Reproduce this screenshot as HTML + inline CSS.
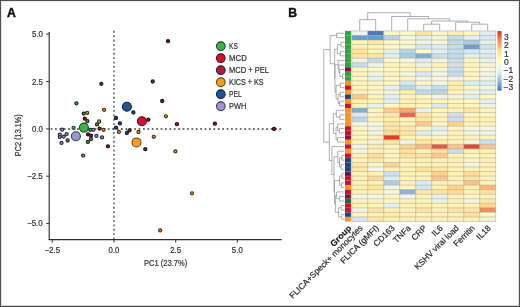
<!DOCTYPE html>
<html><head><meta charset="utf-8"><style>
html,body{margin:0;padding:0;background:#fff;}
#f{position:relative;width:520px;height:307px;overflow:hidden;background:#fff;box-sizing:border-box;border:1px solid #505050;}
svg{position:absolute;left:-1px;top:-1px;will-change:transform;}
svg text{font-family:"Liberation Sans", sans-serif;stroke:#3a3a3a;stroke-width:0.22px;}
</style></head><body><div id="f">
<svg width="520" height="307" viewBox="0 0 520 307" font-family='"Liberation Sans", sans-serif'>
<line x1="49.2" y1="32" x2="49.2" y2="240.1" stroke="#2e2e2e" stroke-width="1.15"/>
<line x1="48.7" y1="239.6" x2="281.6" y2="239.6" stroke="#2e2e2e" stroke-width="1.15"/>
<line x1="46.2" y1="34.0" x2="49.2" y2="34.0" stroke="#2e2e2e" stroke-width="1"/>
<text x="42.800000000000004" y="37.0" text-anchor="end" font-size="8.6" fill="#2e2e2e" textLength="10.9" lengthAdjust="spacingAndGlyphs">5.0</text>
<line x1="46.2" y1="81.6" x2="49.2" y2="81.6" stroke="#2e2e2e" stroke-width="1"/>
<text x="42.800000000000004" y="84.6" text-anchor="end" font-size="8.6" fill="#2e2e2e" textLength="10.9" lengthAdjust="spacingAndGlyphs">2.5</text>
<line x1="46.2" y1="128.9" x2="49.2" y2="128.9" stroke="#2e2e2e" stroke-width="1"/>
<text x="42.800000000000004" y="131.9" text-anchor="end" font-size="8.6" fill="#2e2e2e" textLength="10.9" lengthAdjust="spacingAndGlyphs">0.0</text>
<line x1="46.2" y1="176.2" x2="49.2" y2="176.2" stroke="#2e2e2e" stroke-width="1"/>
<text x="42.800000000000004" y="179.2" text-anchor="end" font-size="8.6" fill="#2e2e2e" textLength="15.8" lengthAdjust="spacingAndGlyphs">−2.5</text>
<line x1="46.2" y1="223.4" x2="49.2" y2="223.4" stroke="#2e2e2e" stroke-width="1"/>
<text x="42.800000000000004" y="226.4" text-anchor="end" font-size="8.6" fill="#2e2e2e" textLength="15.8" lengthAdjust="spacingAndGlyphs">−5.0</text>
<line x1="52.3" y1="239.6" x2="52.3" y2="242.6" stroke="#2e2e2e" stroke-width="1"/>
<text x="52.3" y="253.4" text-anchor="middle" font-size="8.6" fill="#2e2e2e" textLength="15.8" lengthAdjust="spacingAndGlyphs">−2.5</text>
<line x1="114.0" y1="239.6" x2="114.0" y2="242.6" stroke="#2e2e2e" stroke-width="1"/>
<text x="114.0" y="253.4" text-anchor="middle" font-size="8.6" fill="#2e2e2e" textLength="10.9" lengthAdjust="spacingAndGlyphs">0.0</text>
<line x1="175.7" y1="239.6" x2="175.7" y2="242.6" stroke="#2e2e2e" stroke-width="1"/>
<text x="175.7" y="253.4" text-anchor="middle" font-size="8.6" fill="#2e2e2e" textLength="10.9" lengthAdjust="spacingAndGlyphs">2.5</text>
<line x1="237.3" y1="239.6" x2="237.3" y2="242.6" stroke="#2e2e2e" stroke-width="1"/>
<text x="237.3" y="253.4" text-anchor="middle" font-size="8.6" fill="#2e2e2e" textLength="10.9" lengthAdjust="spacingAndGlyphs">5.0</text>
<line x1="114.0" y1="30.85" x2="114.0" y2="239.0" stroke="#444" stroke-width="1.35" stroke-dasharray="1.8 2.6"/>
<line x1="50.6" y1="129.0" x2="281.3" y2="129.0" stroke="#444" stroke-width="1.35" stroke-dasharray="1.8 2.6"/>
<circle cx="76.4" cy="103.3" r="1.55" fill="#4f9e55" stroke="#142a14" stroke-width="1.2"/>
<circle cx="83.7" cy="113.6" r="1.55" fill="#4f9e55" stroke="#142a14" stroke-width="1.2"/>
<circle cx="87.4" cy="121.2" r="1.55" fill="#4f9e55" stroke="#142a14" stroke-width="1.2"/>
<circle cx="97.0" cy="124.4" r="1.55" fill="#4f9e55" stroke="#142a14" stroke-width="1.2"/>
<circle cx="90.2" cy="129.8" r="1.55" fill="#4f9e55" stroke="#142a14" stroke-width="1.2"/>
<circle cx="91.0" cy="139.0" r="1.55" fill="#4f9e55" stroke="#142a14" stroke-width="1.2"/>
<circle cx="87.9" cy="141.9" r="1.55" fill="#4f9e55" stroke="#142a14" stroke-width="1.2"/>
<circle cx="67.6" cy="140.5" r="1.55" fill="#4f9e55" stroke="#142a14" stroke-width="1.2"/>
<circle cx="84.7" cy="118.6" r="1.55" fill="#a4182c" stroke="#360810" stroke-width="1.2"/>
<circle cx="176.9" cy="124.2" r="1.55" fill="#a4182c" stroke="#360810" stroke-width="1.2"/>
<circle cx="107.9" cy="146.3" r="1.55" fill="#a4182c" stroke="#360810" stroke-width="1.2"/>
<circle cx="99.6" cy="128.6" r="1.55" fill="#a4182c" stroke="#360810" stroke-width="1.2"/>
<circle cx="129.5" cy="130.4" r="1.55" fill="#a4182c" stroke="#360810" stroke-width="1.2"/>
<circle cx="168.0" cy="41.2" r="1.55" fill="#7e1832" stroke="#2a0c1c" stroke-width="1.2"/>
<circle cx="162.2" cy="101.0" r="1.55" fill="#7e1832" stroke="#2a0c1c" stroke-width="1.2"/>
<circle cx="214.9" cy="123.7" r="1.55" fill="#7e1832" stroke="#2a0c1c" stroke-width="1.2"/>
<circle cx="274.0" cy="128.9" r="1.55" fill="#7e1832" stroke="#2a0c1c" stroke-width="1.2"/>
<circle cx="148.3" cy="119.7" r="1.55" fill="#7e1832" stroke="#2a0c1c" stroke-width="1.2"/>
<circle cx="88.0" cy="134.3" r="1.55" fill="#7e1832" stroke="#2a0c1c" stroke-width="1.2"/>
<circle cx="91.0" cy="135.6" r="1.55" fill="#7e1832" stroke="#2a0c1c" stroke-width="1.2"/>
<circle cx="87.2" cy="112.9" r="1.55" fill="#e4a040" stroke="#4a3010" stroke-width="1.2"/>
<circle cx="104.1" cy="109.8" r="1.55" fill="#e4a040" stroke="#4a3010" stroke-width="1.2"/>
<circle cx="99.2" cy="121.5" r="1.55" fill="#e4a040" stroke="#4a3010" stroke-width="1.2"/>
<circle cx="103.6" cy="129.8" r="1.55" fill="#e4a040" stroke="#4a3010" stroke-width="1.2"/>
<circle cx="118.9" cy="132.0" r="1.55" fill="#e4a040" stroke="#4a3010" stroke-width="1.2"/>
<circle cx="138.5" cy="132.0" r="1.55" fill="#e4a040" stroke="#4a3010" stroke-width="1.2"/>
<circle cx="153.8" cy="136.8" r="1.55" fill="#e4a040" stroke="#4a3010" stroke-width="1.2"/>
<circle cx="165.9" cy="116.3" r="1.55" fill="#e4a040" stroke="#4a3010" stroke-width="1.2"/>
<circle cx="175.4" cy="151.4" r="1.55" fill="#e4a040" stroke="#4a3010" stroke-width="1.2"/>
<circle cx="192.0" cy="193.3" r="1.55" fill="#e4a040" stroke="#4a3010" stroke-width="1.2"/>
<circle cx="160.2" cy="230.4" r="1.55" fill="#e4a040" stroke="#4a3010" stroke-width="1.2"/>
<circle cx="101.3" cy="83.8" r="1.55" fill="#2c4c7c" stroke="#0f1a30" stroke-width="1.2"/>
<circle cx="152.7" cy="81.5" r="1.55" fill="#2c4c7c" stroke="#0f1a30" stroke-width="1.2"/>
<circle cx="133.4" cy="112.5" r="1.55" fill="#2c4c7c" stroke="#0f1a30" stroke-width="1.2"/>
<circle cx="116.0" cy="118.0" r="1.55" fill="#2c4c7c" stroke="#0f1a30" stroke-width="1.2"/>
<circle cx="119.9" cy="123.4" r="1.55" fill="#2c4c7c" stroke="#0f1a30" stroke-width="1.2"/>
<circle cx="116.0" cy="127.6" r="1.55" fill="#2c4c7c" stroke="#0f1a30" stroke-width="1.2"/>
<circle cx="126.9" cy="133.0" r="1.55" fill="#2c4c7c" stroke="#0f1a30" stroke-width="1.2"/>
<circle cx="145.3" cy="149.2" r="1.55" fill="#2c4c7c" stroke="#0f1a30" stroke-width="1.2"/>
<circle cx="62.2" cy="129.7" r="1.55" fill="#9a96c8" stroke="#2e2e48" stroke-width="1.2"/>
<circle cx="73.6" cy="127.8" r="1.55" fill="#9a96c8" stroke="#2e2e48" stroke-width="1.2"/>
<circle cx="59.8" cy="134.6" r="1.55" fill="#9a96c8" stroke="#2e2e48" stroke-width="1.2"/>
<circle cx="59.8" cy="137.1" r="1.55" fill="#9a96c8" stroke="#2e2e48" stroke-width="1.2"/>
<circle cx="63.7" cy="136.6" r="1.55" fill="#9a96c8" stroke="#2e2e48" stroke-width="1.2"/>
<circle cx="66.6" cy="134.1" r="1.55" fill="#9a96c8" stroke="#2e2e48" stroke-width="1.2"/>
<circle cx="61.5" cy="142.9" r="1.55" fill="#9a96c8" stroke="#2e2e48" stroke-width="1.2"/>
<circle cx="96.4" cy="135.9" r="1.55" fill="#9a96c8" stroke="#2e2e48" stroke-width="1.2"/>
<circle cx="102.1" cy="137.4" r="1.55" fill="#9a96c8" stroke="#2e2e48" stroke-width="1.2"/>
<circle cx="93.4" cy="129.8" r="1.55" fill="#9a96c8" stroke="#2e2e48" stroke-width="1.2"/>
<circle cx="83.1" cy="155.6" r="1.55" fill="#9a96c8" stroke="#2e2e48" stroke-width="1.2"/>
<circle cx="75.9" cy="136.3" r="4.5" fill="#9d94d2" stroke="#3c3a52" stroke-width="1.05"/>
<circle cx="83.9" cy="127.6" r="4.5" fill="#3cb34a" stroke="#1d4a1f" stroke-width="1.05"/>
<circle cx="126.9" cy="106.8" r="4.5" fill="#1f5595" stroke="#0c2444" stroke-width="1.05"/>
<circle cx="141.9" cy="121.3" r="4.5" fill="#d3112f" stroke="#5a0a14" stroke-width="1.05"/>
<circle cx="136.5" cy="142.4" r="4.5" fill="#f59d1c" stroke="#6a4210" stroke-width="1.05"/>
<circle cx="220.8" cy="46.2" r="4.35" fill="#3cb34a" stroke="#1d4a1f" stroke-width="1.05"/>
<text x="229.1" y="48.8" font-size="8.3" fill="#2e2e2e" textLength="8.7" lengthAdjust="spacingAndGlyphs">KS</text>
<circle cx="220.8" cy="58.2" r="4.35" fill="#d3112f" stroke="#5a0a14" stroke-width="1.05"/>
<text x="229.1" y="60.8" font-size="8.3" fill="#2e2e2e" textLength="17.7" lengthAdjust="spacingAndGlyphs">MCD</text>
<circle cx="220.8" cy="70.2" r="4.35" fill="#c3133a" stroke="#2a1c4c" stroke-width="1.05"/>
<text x="229.1" y="72.8" font-size="8.3" fill="#2e2e2e" textLength="39.8" lengthAdjust="spacingAndGlyphs">MCD + PEL</text>
<circle cx="220.8" cy="82.2" r="4.35" fill="#f59d1c" stroke="#6a4210" stroke-width="1.05"/>
<text x="229.1" y="84.8" font-size="8.3" fill="#2e2e2e" textLength="34.5" lengthAdjust="spacingAndGlyphs">KICS + KS</text>
<circle cx="220.8" cy="94.2" r="4.35" fill="#1f5595" stroke="#0c2444" stroke-width="1.05"/>
<text x="229.1" y="96.8" font-size="8.3" fill="#2e2e2e" textLength="12.7" lengthAdjust="spacingAndGlyphs">PEL</text>
<circle cx="220.8" cy="106.2" r="4.35" fill="#9d94d2" stroke="#3c3a52" stroke-width="1.05"/>
<text x="229.1" y="108.8" font-size="8.3" fill="#2e2e2e" textLength="17.1" lengthAdjust="spacingAndGlyphs">PWH</text>
<text x="143.9" y="266.4" font-size="9.0" fill="#333" textLength="43.3" lengthAdjust="spacingAndGlyphs">PC1 (23.7%)</text>
<text transform="translate(20.8,156.2) rotate(-90)" font-size="9.0" fill="#333" textLength="42.0" lengthAdjust="spacingAndGlyphs">PC2 (13.1%)</text>
<line x1="518.5" y1="0" x2="518.5" y2="307" stroke="#e2e2e2" stroke-width="1"/>
<line x1="0" y1="305.5" x2="520" y2="305.5" stroke="#cfcfcf" stroke-width="1"/>
<line x1="1.5" y1="0" x2="1.5" y2="307" stroke="#e4e4e4" stroke-width="1"/>
<line x1="0" y1="1.5" x2="520" y2="1.5" stroke="#e8e8e8" stroke-width="1"/>
<text x="7.1" y="16.7" font-size="12.2" font-weight="bold" fill="#111" style="stroke:#111;stroke-width:0.45px">A</text>
<text x="288.3" y="16.8" font-size="12.2" font-weight="bold" fill="#111" style="stroke:#111;stroke-width:0.45px">B</text>
<rect x="351.70" y="30.95" width="16.00" height="4.535" fill="#eef6f0"/>
<rect x="367.70" y="30.95" width="16.00" height="4.535" fill="#4a7bb7"/>
<rect x="383.70" y="30.95" width="16.00" height="4.535" fill="#fff7c4"/>
<rect x="399.70" y="30.95" width="16.00" height="4.535" fill="#fff8c8"/>
<rect x="415.70" y="30.95" width="16.00" height="4.535" fill="#fee39c"/>
<rect x="431.70" y="30.95" width="16.00" height="4.535" fill="#fbf6cc"/>
<rect x="447.70" y="30.95" width="16.00" height="4.535" fill="#fef0b0"/>
<rect x="463.70" y="30.95" width="16.00" height="4.535" fill="#fff6c4"/>
<rect x="479.70" y="30.95" width="16.00" height="4.535" fill="#e0eef4"/>
<rect x="351.70" y="35.48" width="16.00" height="4.535" fill="#6b9ed0"/>
<rect x="367.70" y="35.48" width="16.00" height="4.535" fill="#6a9ccd"/>
<rect x="383.70" y="35.48" width="16.00" height="4.535" fill="#b4d4ea"/>
<rect x="399.70" y="35.48" width="16.00" height="4.535" fill="#f4f6e4"/>
<rect x="415.70" y="35.48" width="16.00" height="4.535" fill="#e0eef2"/>
<rect x="431.70" y="35.48" width="16.00" height="4.535" fill="#f4f6dc"/>
<rect x="447.70" y="35.48" width="16.00" height="4.535" fill="#c4dcec"/>
<rect x="463.70" y="35.48" width="16.00" height="4.535" fill="#e6f0f2"/>
<rect x="479.70" y="35.48" width="16.00" height="4.535" fill="#d8eaf2"/>
<rect x="351.70" y="40.02" width="16.00" height="4.535" fill="#fff5b8"/>
<rect x="367.70" y="40.02" width="16.00" height="4.535" fill="#fee9a4"/>
<rect x="383.70" y="40.02" width="16.00" height="4.535" fill="#fff8c4"/>
<rect x="399.70" y="40.02" width="16.00" height="4.535" fill="#fff8c8"/>
<rect x="415.70" y="40.02" width="16.00" height="4.535" fill="#eef4e6"/>
<rect x="431.70" y="40.02" width="16.00" height="4.535" fill="#f8f6d4"/>
<rect x="447.70" y="40.02" width="16.00" height="4.535" fill="#c0d8ea"/>
<rect x="463.70" y="40.02" width="16.00" height="4.535" fill="#a8cce4"/>
<rect x="479.70" y="40.02" width="16.00" height="4.535" fill="#e4f0f0"/>
<rect x="351.70" y="44.55" width="16.00" height="4.535" fill="#fff4b6"/>
<rect x="367.70" y="44.55" width="16.00" height="4.535" fill="#fef5b4"/>
<rect x="383.70" y="44.55" width="16.00" height="4.535" fill="#fff8c8"/>
<rect x="399.70" y="44.55" width="16.00" height="4.535" fill="#f6f8d8"/>
<rect x="415.70" y="44.55" width="16.00" height="4.535" fill="#d4e8f2"/>
<rect x="431.70" y="44.55" width="16.00" height="4.535" fill="#dceef4"/>
<rect x="447.70" y="44.55" width="16.00" height="4.535" fill="#c4dcec"/>
<rect x="463.70" y="44.55" width="16.00" height="4.535" fill="#6e9fcf"/>
<rect x="479.70" y="44.55" width="16.00" height="4.535" fill="#d0e4f0"/>
<rect x="351.70" y="49.09" width="16.00" height="4.535" fill="#fde39c"/>
<rect x="367.70" y="49.09" width="16.00" height="4.535" fill="#fff5b6"/>
<rect x="383.70" y="49.09" width="16.00" height="4.535" fill="#e4f0ee"/>
<rect x="399.70" y="49.09" width="16.00" height="4.535" fill="#b4d2e8"/>
<rect x="415.70" y="49.09" width="16.00" height="4.535" fill="#fff8c4"/>
<rect x="431.70" y="49.09" width="16.00" height="4.535" fill="#e4f0ee"/>
<rect x="447.70" y="49.09" width="16.00" height="4.535" fill="#c4dcec"/>
<rect x="463.70" y="49.09" width="16.00" height="4.535" fill="#d4e8f4"/>
<rect x="479.70" y="49.09" width="16.00" height="4.535" fill="#e0eef0"/>
<rect x="351.70" y="53.62" width="16.00" height="4.535" fill="#fee7a2"/>
<rect x="367.70" y="53.62" width="16.00" height="4.535" fill="#fee6a0"/>
<rect x="383.70" y="53.62" width="16.00" height="4.535" fill="#e2eef0"/>
<rect x="399.70" y="53.62" width="16.00" height="4.535" fill="#a8cce4"/>
<rect x="415.70" y="53.62" width="16.00" height="4.535" fill="#7eafd6"/>
<rect x="431.70" y="53.62" width="16.00" height="4.535" fill="#c8e0ec"/>
<rect x="447.70" y="53.62" width="16.00" height="4.535" fill="#c0d8ea"/>
<rect x="463.70" y="53.62" width="16.00" height="4.535" fill="#e4f0ee"/>
<rect x="479.70" y="53.62" width="16.00" height="4.535" fill="#dce6f4"/>
<rect x="351.70" y="58.16" width="16.00" height="4.535" fill="#eef4e6"/>
<rect x="367.70" y="58.16" width="16.00" height="4.535" fill="#c0daec"/>
<rect x="383.70" y="58.16" width="16.00" height="4.535" fill="#fff8c8"/>
<rect x="399.70" y="58.16" width="16.00" height="4.535" fill="#f4f6e0"/>
<rect x="415.70" y="58.16" width="16.00" height="4.535" fill="#dcecf2"/>
<rect x="431.70" y="58.16" width="16.00" height="4.535" fill="#eef4e4"/>
<rect x="447.70" y="58.16" width="16.00" height="4.535" fill="#c8dcec"/>
<rect x="463.70" y="58.16" width="16.00" height="4.535" fill="#fff6c0"/>
<rect x="479.70" y="58.16" width="16.00" height="4.535" fill="#e6f2ec"/>
<rect x="351.70" y="62.70" width="16.00" height="4.535" fill="#c4dcec"/>
<rect x="367.70" y="62.70" width="16.00" height="4.535" fill="#eef4ea"/>
<rect x="383.70" y="62.70" width="16.00" height="4.535" fill="#fff6c0"/>
<rect x="399.70" y="62.70" width="16.00" height="4.535" fill="#fff6c4"/>
<rect x="415.70" y="62.70" width="16.00" height="4.535" fill="#eef4e8"/>
<rect x="431.70" y="62.70" width="16.00" height="4.535" fill="#fff4b8"/>
<rect x="447.70" y="62.70" width="16.00" height="4.535" fill="#dcdce4"/>
<rect x="463.70" y="62.70" width="16.00" height="4.535" fill="#fff6c0"/>
<rect x="479.70" y="62.70" width="16.00" height="4.535" fill="#f8f6d4"/>
<rect x="351.70" y="67.23" width="16.00" height="4.535" fill="#fff7c0"/>
<rect x="367.70" y="67.23" width="16.00" height="4.535" fill="#fff6c0"/>
<rect x="383.70" y="67.23" width="16.00" height="4.535" fill="#fff6c0"/>
<rect x="399.70" y="67.23" width="16.00" height="4.535" fill="#fff6c0"/>
<rect x="415.70" y="67.23" width="16.00" height="4.535" fill="#fff3b8"/>
<rect x="431.70" y="67.23" width="16.00" height="4.535" fill="#f4f6dc"/>
<rect x="447.70" y="67.23" width="16.00" height="4.535" fill="#c8dcec"/>
<rect x="463.70" y="67.23" width="16.00" height="4.535" fill="#fff6c4"/>
<rect x="479.70" y="67.23" width="16.00" height="4.535" fill="#f4f6e0"/>
<rect x="351.70" y="71.77" width="16.00" height="4.535" fill="#fff6c0"/>
<rect x="367.70" y="71.77" width="16.00" height="4.535" fill="#f2f6e4"/>
<rect x="383.70" y="71.77" width="16.00" height="4.535" fill="#fff6c0"/>
<rect x="399.70" y="71.77" width="16.00" height="4.535" fill="#f2f6e4"/>
<rect x="415.70" y="71.77" width="16.00" height="4.535" fill="#d8eaf4"/>
<rect x="431.70" y="71.77" width="16.00" height="4.535" fill="#f4f6e0"/>
<rect x="447.70" y="71.77" width="16.00" height="4.535" fill="#c4dcec"/>
<rect x="463.70" y="71.77" width="16.00" height="4.535" fill="#fff6c4"/>
<rect x="479.70" y="71.77" width="16.00" height="4.535" fill="#f2f6e2"/>
<rect x="351.70" y="76.30" width="16.00" height="4.535" fill="#fff6c0"/>
<rect x="367.70" y="76.30" width="16.00" height="4.535" fill="#e4f0ee"/>
<rect x="383.70" y="76.30" width="16.00" height="4.535" fill="#fff6c4"/>
<rect x="399.70" y="76.30" width="16.00" height="4.535" fill="#fff4c0"/>
<rect x="415.70" y="76.30" width="16.00" height="4.535" fill="#eef4e6"/>
<rect x="431.70" y="76.30" width="16.00" height="4.535" fill="#f4f6e0"/>
<rect x="447.70" y="76.30" width="16.00" height="4.535" fill="#eef4ea"/>
<rect x="463.70" y="76.30" width="16.00" height="4.535" fill="#fff6c4"/>
<rect x="479.70" y="76.30" width="16.00" height="4.535" fill="#eef4e8"/>
<rect x="351.70" y="80.84" width="16.00" height="4.535" fill="#fff4b8"/>
<rect x="367.70" y="80.84" width="16.00" height="4.535" fill="#fff4c0"/>
<rect x="383.70" y="80.84" width="16.00" height="4.535" fill="#fff6c0"/>
<rect x="399.70" y="80.84" width="16.00" height="4.535" fill="#dce6f4"/>
<rect x="415.70" y="80.84" width="16.00" height="4.535" fill="#fff6c0"/>
<rect x="431.70" y="80.84" width="16.00" height="4.535" fill="#f2f6e2"/>
<rect x="447.70" y="80.84" width="16.00" height="4.535" fill="#feeea8"/>
<rect x="463.70" y="80.84" width="16.00" height="4.535" fill="#dceef2"/>
<rect x="479.70" y="80.84" width="16.00" height="4.535" fill="#dceef2"/>
<rect x="351.70" y="85.37" width="16.00" height="4.535" fill="#fff6c0"/>
<rect x="367.70" y="85.37" width="16.00" height="4.535" fill="#fff6c4"/>
<rect x="383.70" y="85.37" width="16.00" height="4.535" fill="#e8f2ec"/>
<rect x="399.70" y="85.37" width="16.00" height="4.535" fill="#b8d8e8"/>
<rect x="415.70" y="85.37" width="16.00" height="4.535" fill="#dcecf2"/>
<rect x="431.70" y="85.37" width="16.00" height="4.535" fill="#c4dcec"/>
<rect x="447.70" y="85.37" width="16.00" height="4.535" fill="#fef0b0"/>
<rect x="463.70" y="85.37" width="16.00" height="4.535" fill="#fff6c4"/>
<rect x="479.70" y="85.37" width="16.00" height="4.535" fill="#f2f6e4"/>
<rect x="351.70" y="89.91" width="16.00" height="4.535" fill="#fff4b8"/>
<rect x="367.70" y="89.91" width="16.00" height="4.535" fill="#fff6c0"/>
<rect x="383.70" y="89.91" width="16.00" height="4.535" fill="#f0f4e4"/>
<rect x="399.70" y="89.91" width="16.00" height="4.535" fill="#fef0a8"/>
<rect x="415.70" y="89.91" width="16.00" height="4.535" fill="#c0d8ea"/>
<rect x="431.70" y="89.91" width="16.00" height="4.535" fill="#b8d4e8"/>
<rect x="447.70" y="89.91" width="16.00" height="4.535" fill="#fff2b8"/>
<rect x="463.70" y="89.91" width="16.00" height="4.535" fill="#f0f4e4"/>
<rect x="479.70" y="89.91" width="16.00" height="4.535" fill="#e0eef0"/>
<rect x="351.70" y="94.44" width="16.00" height="4.535" fill="#fdc98a"/>
<rect x="367.70" y="94.44" width="16.00" height="4.535" fill="#fff4b8"/>
<rect x="383.70" y="94.44" width="16.00" height="4.535" fill="#e4f0ee"/>
<rect x="399.70" y="94.44" width="16.00" height="4.535" fill="#fff4bc"/>
<rect x="415.70" y="94.44" width="16.00" height="4.535" fill="#fff6c4"/>
<rect x="431.70" y="94.44" width="16.00" height="4.535" fill="#f0f4e4"/>
<rect x="447.70" y="94.44" width="16.00" height="4.535" fill="#f4f6dc"/>
<rect x="463.70" y="94.44" width="16.00" height="4.535" fill="#e4f0ee"/>
<rect x="479.70" y="94.44" width="16.00" height="4.535" fill="#fff6c0"/>
<rect x="351.70" y="98.98" width="16.00" height="4.535" fill="#fff0ac"/>
<rect x="367.70" y="98.98" width="16.00" height="4.535" fill="#fff4b8"/>
<rect x="383.70" y="98.98" width="16.00" height="4.535" fill="#e2eef0"/>
<rect x="399.70" y="98.98" width="16.00" height="4.535" fill="#fff0b0"/>
<rect x="415.70" y="98.98" width="16.00" height="4.535" fill="#fef4b8"/>
<rect x="431.70" y="98.98" width="16.00" height="4.535" fill="#fff4b8"/>
<rect x="447.70" y="98.98" width="16.00" height="4.535" fill="#fff4bc"/>
<rect x="463.70" y="98.98" width="16.00" height="4.535" fill="#fff6c0"/>
<rect x="479.70" y="98.98" width="16.00" height="4.535" fill="#e4f0f0"/>
<rect x="351.70" y="103.51" width="16.00" height="4.535" fill="#fff4b8"/>
<rect x="367.70" y="103.51" width="16.00" height="4.535" fill="#e8f2ec"/>
<rect x="383.70" y="103.51" width="16.00" height="4.535" fill="#fff6c0"/>
<rect x="399.70" y="103.51" width="16.00" height="4.535" fill="#fff0b4"/>
<rect x="415.70" y="103.51" width="16.00" height="4.535" fill="#fff4bc"/>
<rect x="431.70" y="103.51" width="16.00" height="4.535" fill="#dce8f4"/>
<rect x="447.70" y="103.51" width="16.00" height="4.535" fill="#fff4b8"/>
<rect x="463.70" y="103.51" width="16.00" height="4.535" fill="#fff4c0"/>
<rect x="479.70" y="103.51" width="16.00" height="4.535" fill="#f0f4e4"/>
<rect x="351.70" y="108.05" width="16.00" height="4.535" fill="#7eaed6"/>
<rect x="367.70" y="108.05" width="16.00" height="4.535" fill="#fff4bc"/>
<rect x="383.70" y="108.05" width="16.00" height="4.535" fill="#fdca8c"/>
<rect x="399.70" y="108.05" width="16.00" height="4.535" fill="#fca46c"/>
<rect x="415.70" y="108.05" width="16.00" height="4.535" fill="#e8f2ec"/>
<rect x="431.70" y="108.05" width="16.00" height="4.535" fill="#fff4bc"/>
<rect x="447.70" y="108.05" width="16.00" height="4.535" fill="#fff2b4"/>
<rect x="463.70" y="108.05" width="16.00" height="4.535" fill="#fee8a4"/>
<rect x="479.70" y="108.05" width="16.00" height="4.535" fill="#fff4c0"/>
<rect x="351.70" y="112.58" width="16.00" height="4.535" fill="#d8eaf4"/>
<rect x="367.70" y="112.58" width="16.00" height="4.535" fill="#fff4c0"/>
<rect x="383.70" y="112.58" width="16.00" height="4.535" fill="#fee8a8"/>
<rect x="399.70" y="112.58" width="16.00" height="4.535" fill="#ec6446"/>
<rect x="415.70" y="112.58" width="16.00" height="4.535" fill="#fee8a8"/>
<rect x="431.70" y="112.58" width="16.00" height="4.535" fill="#fff4b8"/>
<rect x="447.70" y="112.58" width="16.00" height="4.535" fill="#d4dce8"/>
<rect x="463.70" y="112.58" width="16.00" height="4.535" fill="#fff4c0"/>
<rect x="479.70" y="112.58" width="16.00" height="4.535" fill="#fff4c0"/>
<rect x="351.70" y="117.12" width="16.00" height="4.535" fill="#b8d4ea"/>
<rect x="367.70" y="117.12" width="16.00" height="4.535" fill="#fff4bc"/>
<rect x="383.70" y="117.12" width="16.00" height="4.535" fill="#fff0b0"/>
<rect x="399.70" y="117.12" width="16.00" height="4.535" fill="#fff4c0"/>
<rect x="415.70" y="117.12" width="16.00" height="4.535" fill="#fee6a4"/>
<rect x="431.70" y="117.12" width="16.00" height="4.535" fill="#fff4bc"/>
<rect x="447.70" y="117.12" width="16.00" height="4.535" fill="#d4dceb"/>
<rect x="463.70" y="117.12" width="16.00" height="4.535" fill="#fff2b8"/>
<rect x="479.70" y="117.12" width="16.00" height="4.535" fill="#fef2b8"/>
<rect x="351.70" y="121.65" width="16.00" height="4.535" fill="#f0f4e8"/>
<rect x="367.70" y="121.65" width="16.00" height="4.535" fill="#f4f4e0"/>
<rect x="383.70" y="121.65" width="16.00" height="4.535" fill="#fde6a4"/>
<rect x="399.70" y="121.65" width="16.00" height="4.535" fill="#fff0b0"/>
<rect x="415.70" y="121.65" width="16.00" height="4.535" fill="#fdcc90"/>
<rect x="431.70" y="121.65" width="16.00" height="4.535" fill="#fff4c0"/>
<rect x="447.70" y="121.65" width="16.00" height="4.535" fill="#fdd08e"/>
<rect x="463.70" y="121.65" width="16.00" height="4.535" fill="#fff2b8"/>
<rect x="479.70" y="121.65" width="16.00" height="4.535" fill="#fff2b8"/>
<rect x="351.70" y="126.19" width="16.00" height="4.535" fill="#fff6c4"/>
<rect x="367.70" y="126.19" width="16.00" height="4.535" fill="#f2f4e4"/>
<rect x="383.70" y="126.19" width="16.00" height="4.535" fill="#fee4a0"/>
<rect x="399.70" y="126.19" width="16.00" height="4.535" fill="#fee8a8"/>
<rect x="415.70" y="126.19" width="16.00" height="4.535" fill="#fff4c0"/>
<rect x="431.70" y="126.19" width="16.00" height="4.535" fill="#e4f0f0"/>
<rect x="447.70" y="126.19" width="16.00" height="4.535" fill="#fff4bc"/>
<rect x="463.70" y="126.19" width="16.00" height="4.535" fill="#f4f6e0"/>
<rect x="479.70" y="126.19" width="16.00" height="4.535" fill="#f4f4e0"/>
<rect x="351.70" y="130.72" width="16.00" height="4.535" fill="#fff6c0"/>
<rect x="367.70" y="130.72" width="16.00" height="4.535" fill="#f2f4e4"/>
<rect x="383.70" y="130.72" width="16.00" height="4.535" fill="#fddc98"/>
<rect x="399.70" y="130.72" width="16.00" height="4.535" fill="#fde6a6"/>
<rect x="415.70" y="130.72" width="16.00" height="4.535" fill="#dceef4"/>
<rect x="431.70" y="130.72" width="16.00" height="4.535" fill="#eef4e8"/>
<rect x="447.70" y="130.72" width="16.00" height="4.535" fill="#fff4c0"/>
<rect x="463.70" y="130.72" width="16.00" height="4.535" fill="#f2f4e0"/>
<rect x="479.70" y="130.72" width="16.00" height="4.535" fill="#eef4e8"/>
<rect x="351.70" y="135.25" width="16.00" height="4.535" fill="#fff6c0"/>
<rect x="367.70" y="135.25" width="16.00" height="4.535" fill="#fff2b8"/>
<rect x="383.70" y="135.25" width="16.00" height="4.535" fill="#e03c30"/>
<rect x="399.70" y="135.25" width="16.00" height="4.535" fill="#fff2b4"/>
<rect x="415.70" y="135.25" width="16.00" height="4.535" fill="#fff2b8"/>
<rect x="431.70" y="135.25" width="16.00" height="4.535" fill="#fff4bc"/>
<rect x="447.70" y="135.25" width="16.00" height="4.535" fill="#fff2b8"/>
<rect x="463.70" y="135.25" width="16.00" height="4.535" fill="#fff4bc"/>
<rect x="479.70" y="135.25" width="16.00" height="4.535" fill="#fef2b8"/>
<rect x="351.70" y="139.79" width="16.00" height="4.535" fill="#fff4bc"/>
<rect x="367.70" y="139.79" width="16.00" height="4.535" fill="#f0f4e4"/>
<rect x="383.70" y="139.79" width="16.00" height="4.535" fill="#fde4a0"/>
<rect x="399.70" y="139.79" width="16.00" height="4.535" fill="#f0f4e4"/>
<rect x="415.70" y="139.79" width="16.00" height="4.535" fill="#fee6a4"/>
<rect x="431.70" y="139.79" width="16.00" height="4.535" fill="#fff0b0"/>
<rect x="447.70" y="139.79" width="16.00" height="4.535" fill="#fff4bc"/>
<rect x="463.70" y="139.79" width="16.00" height="4.535" fill="#f4f6e0"/>
<rect x="479.70" y="139.79" width="16.00" height="4.535" fill="#c8e0ee"/>
<rect x="351.70" y="144.32" width="16.00" height="4.535" fill="#f0f4e4"/>
<rect x="367.70" y="144.32" width="16.00" height="4.535" fill="#fee8a8"/>
<rect x="383.70" y="144.32" width="16.00" height="4.535" fill="#fff2b8"/>
<rect x="399.70" y="144.32" width="16.00" height="4.535" fill="#fdd094"/>
<rect x="415.70" y="144.32" width="16.00" height="4.535" fill="#fcb87c"/>
<rect x="431.70" y="144.32" width="16.00" height="4.535" fill="#e8583c"/>
<rect x="447.70" y="144.32" width="16.00" height="4.535" fill="#fcc48a"/>
<rect x="463.70" y="144.32" width="16.00" height="4.535" fill="#e04834"/>
<rect x="479.70" y="144.32" width="16.00" height="4.535" fill="#fdc08a"/>
<rect x="351.70" y="148.86" width="16.00" height="4.535" fill="#f4f6e0"/>
<rect x="367.70" y="148.86" width="16.00" height="4.535" fill="#fff4c0"/>
<rect x="383.70" y="148.86" width="16.00" height="4.535" fill="#fff4c0"/>
<rect x="399.70" y="148.86" width="16.00" height="4.535" fill="#fde0a0"/>
<rect x="415.70" y="148.86" width="16.00" height="4.535" fill="#fff2b8"/>
<rect x="431.70" y="148.86" width="16.00" height="4.535" fill="#fee0a0"/>
<rect x="447.70" y="148.86" width="16.00" height="4.535" fill="#c8dcec"/>
<rect x="463.70" y="148.86" width="16.00" height="4.535" fill="#fff2b8"/>
<rect x="479.70" y="148.86" width="16.00" height="4.535" fill="#fff2b8"/>
<rect x="351.70" y="153.40" width="16.00" height="4.535" fill="#fff2b4"/>
<rect x="367.70" y="153.40" width="16.00" height="4.535" fill="#fddc9c"/>
<rect x="383.70" y="153.40" width="16.00" height="4.535" fill="#fff4c0"/>
<rect x="399.70" y="153.40" width="16.00" height="4.535" fill="#fee4a4"/>
<rect x="415.70" y="153.40" width="16.00" height="4.535" fill="#fee0a0"/>
<rect x="431.70" y="153.40" width="16.00" height="4.535" fill="#fdc890"/>
<rect x="447.70" y="153.40" width="16.00" height="4.535" fill="#fff2b8"/>
<rect x="463.70" y="153.40" width="16.00" height="4.535" fill="#fff4c0"/>
<rect x="479.70" y="153.40" width="16.00" height="4.535" fill="#fff2b8"/>
<rect x="351.70" y="157.93" width="16.00" height="4.535" fill="#fff2b4"/>
<rect x="367.70" y="157.93" width="16.00" height="4.535" fill="#fee8a8"/>
<rect x="383.70" y="157.93" width="16.00" height="4.535" fill="#fff4c0"/>
<rect x="399.70" y="157.93" width="16.00" height="4.535" fill="#fff2b8"/>
<rect x="415.70" y="157.93" width="16.00" height="4.535" fill="#fff0b0"/>
<rect x="431.70" y="157.93" width="16.00" height="4.535" fill="#fff0b0"/>
<rect x="447.70" y="157.93" width="16.00" height="4.535" fill="#fff2b8"/>
<rect x="463.70" y="157.93" width="16.00" height="4.535" fill="#fff6c4"/>
<rect x="479.70" y="157.93" width="16.00" height="4.535" fill="#fff2b8"/>
<rect x="351.70" y="162.47" width="16.00" height="4.535" fill="#fee8a8"/>
<rect x="367.70" y="162.47" width="16.00" height="4.535" fill="#f8f6d0"/>
<rect x="383.70" y="162.47" width="16.00" height="4.535" fill="#fdd498"/>
<rect x="399.70" y="162.47" width="16.00" height="4.535" fill="#fff2b8"/>
<rect x="415.70" y="162.47" width="16.00" height="4.535" fill="#fff2b4"/>
<rect x="431.70" y="162.47" width="16.00" height="4.535" fill="#fff0b4"/>
<rect x="447.70" y="162.47" width="16.00" height="4.535" fill="#fff2b8"/>
<rect x="463.70" y="162.47" width="16.00" height="4.535" fill="#f0f4e0"/>
<rect x="479.70" y="162.47" width="16.00" height="4.535" fill="#fff2b8"/>
<rect x="351.70" y="167.00" width="16.00" height="4.535" fill="#fee6a4"/>
<rect x="367.70" y="167.00" width="16.00" height="4.535" fill="#f4f6ee"/>
<rect x="383.70" y="167.00" width="16.00" height="4.535" fill="#fff0b4"/>
<rect x="399.70" y="167.00" width="16.00" height="4.535" fill="#fff0b4"/>
<rect x="415.70" y="167.00" width="16.00" height="4.535" fill="#fee2a0"/>
<rect x="431.70" y="167.00" width="16.00" height="4.535" fill="#fee6a4"/>
<rect x="447.70" y="167.00" width="16.00" height="4.535" fill="#fff2b4"/>
<rect x="463.70" y="167.00" width="16.00" height="4.535" fill="#fff2b8"/>
<rect x="479.70" y="167.00" width="16.00" height="4.535" fill="#fff2b4"/>
<rect x="351.70" y="171.53" width="16.00" height="4.535" fill="#fff4bc"/>
<rect x="367.70" y="171.53" width="16.00" height="4.535" fill="#fff0b4"/>
<rect x="383.70" y="171.53" width="16.00" height="4.535" fill="#cce0f0"/>
<rect x="399.70" y="171.53" width="16.00" height="4.535" fill="#fff2b8"/>
<rect x="415.70" y="171.53" width="16.00" height="4.535" fill="#fff2b8"/>
<rect x="431.70" y="171.53" width="16.00" height="4.535" fill="#fdd090"/>
<rect x="447.70" y="171.53" width="16.00" height="4.535" fill="#fff2b8"/>
<rect x="463.70" y="171.53" width="16.00" height="4.535" fill="#fddc98"/>
<rect x="479.70" y="171.53" width="16.00" height="4.535" fill="#fff2b8"/>
<rect x="351.70" y="176.07" width="16.00" height="4.535" fill="#fff0b4"/>
<rect x="367.70" y="176.07" width="16.00" height="4.535" fill="#fdd898"/>
<rect x="383.70" y="176.07" width="16.00" height="4.535" fill="#dceef4"/>
<rect x="399.70" y="176.07" width="16.00" height="4.535" fill="#fff2b8"/>
<rect x="415.70" y="176.07" width="16.00" height="4.535" fill="#fff0b4"/>
<rect x="431.70" y="176.07" width="16.00" height="4.535" fill="#fdc48a"/>
<rect x="447.70" y="176.07" width="16.00" height="4.535" fill="#fff2b8"/>
<rect x="463.70" y="176.07" width="16.00" height="4.535" fill="#fee2a0"/>
<rect x="479.70" y="176.07" width="16.00" height="4.535" fill="#fff2b8"/>
<rect x="351.70" y="180.60" width="16.00" height="4.535" fill="#fff2b8"/>
<rect x="367.70" y="180.60" width="16.00" height="4.535" fill="#fff0b4"/>
<rect x="383.70" y="180.60" width="16.00" height="4.535" fill="#b0cce4"/>
<rect x="399.70" y="180.60" width="16.00" height="4.535" fill="#fff0b8"/>
<rect x="415.70" y="180.60" width="16.00" height="4.535" fill="#d8ecf2"/>
<rect x="431.70" y="180.60" width="16.00" height="4.535" fill="#fff0b4"/>
<rect x="447.70" y="180.60" width="16.00" height="4.535" fill="#fff2b8"/>
<rect x="463.70" y="180.60" width="16.00" height="4.535" fill="#fdc088"/>
<rect x="479.70" y="180.60" width="16.00" height="4.535" fill="#fff2b8"/>
<rect x="351.70" y="185.14" width="16.00" height="4.535" fill="#fff0b4"/>
<rect x="367.70" y="185.14" width="16.00" height="4.535" fill="#fee4a0"/>
<rect x="383.70" y="185.14" width="16.00" height="4.535" fill="#f4f6e4"/>
<rect x="399.70" y="185.14" width="16.00" height="4.535" fill="#fff4c0"/>
<rect x="415.70" y="185.14" width="16.00" height="4.535" fill="#d4e2f6"/>
<rect x="431.70" y="185.14" width="16.00" height="4.535" fill="#fff0b4"/>
<rect x="447.70" y="185.14" width="16.00" height="4.535" fill="#fdd094"/>
<rect x="463.70" y="185.14" width="16.00" height="4.535" fill="#fff2b8"/>
<rect x="479.70" y="185.14" width="16.00" height="4.535" fill="#fcb47c"/>
<rect x="351.70" y="189.67" width="16.00" height="4.535" fill="#fff0b4"/>
<rect x="367.70" y="189.67" width="16.00" height="4.535" fill="#fff0b4"/>
<rect x="383.70" y="189.67" width="16.00" height="4.535" fill="#f4f6e0"/>
<rect x="399.70" y="189.67" width="16.00" height="4.535" fill="#8cb4d8"/>
<rect x="415.70" y="189.67" width="16.00" height="4.535" fill="#fee8a8"/>
<rect x="431.70" y="189.67" width="16.00" height="4.535" fill="#fee4a0"/>
<rect x="447.70" y="189.67" width="16.00" height="4.535" fill="#fddc98"/>
<rect x="463.70" y="189.67" width="16.00" height="4.535" fill="#fff2b8"/>
<rect x="479.70" y="189.67" width="16.00" height="4.535" fill="#fee0a0"/>
<rect x="351.70" y="194.21" width="16.00" height="4.535" fill="#f4f6ec"/>
<rect x="367.70" y="194.21" width="16.00" height="4.535" fill="#f4f6e8"/>
<rect x="383.70" y="194.21" width="16.00" height="4.535" fill="#fff4c0"/>
<rect x="399.70" y="194.21" width="16.00" height="4.535" fill="#eef4f0"/>
<rect x="415.70" y="194.21" width="16.00" height="4.535" fill="#fff2b8"/>
<rect x="431.70" y="194.21" width="16.00" height="4.535" fill="#e8f0ec"/>
<rect x="447.70" y="194.21" width="16.00" height="4.535" fill="#fff2b8"/>
<rect x="463.70" y="194.21" width="16.00" height="4.535" fill="#fff4c0"/>
<rect x="479.70" y="194.21" width="16.00" height="4.535" fill="#fff2b8"/>
<rect x="351.70" y="198.75" width="16.00" height="4.535" fill="#fff4bc"/>
<rect x="367.70" y="198.75" width="16.00" height="4.535" fill="#fff4bc"/>
<rect x="383.70" y="198.75" width="16.00" height="4.535" fill="#fff4c0"/>
<rect x="399.70" y="198.75" width="16.00" height="4.535" fill="#fff2b8"/>
<rect x="415.70" y="198.75" width="16.00" height="4.535" fill="#fff2b8"/>
<rect x="431.70" y="198.75" width="16.00" height="4.535" fill="#ecf2e4"/>
<rect x="447.70" y="198.75" width="16.00" height="4.535" fill="#fff2b8"/>
<rect x="463.70" y="198.75" width="16.00" height="4.535" fill="#f4f6e0"/>
<rect x="479.70" y="198.75" width="16.00" height="4.535" fill="#fee8a8"/>
<rect x="351.70" y="203.28" width="16.00" height="4.535" fill="#fff4bc"/>
<rect x="367.70" y="203.28" width="16.00" height="4.535" fill="#fff4bc"/>
<rect x="383.70" y="203.28" width="16.00" height="4.535" fill="#e4f0f0"/>
<rect x="399.70" y="203.28" width="16.00" height="4.535" fill="#fff0b4"/>
<rect x="415.70" y="203.28" width="16.00" height="4.535" fill="#fff0b4"/>
<rect x="431.70" y="203.28" width="16.00" height="4.535" fill="#fff2b8"/>
<rect x="447.70" y="203.28" width="16.00" height="4.535" fill="#fff2b8"/>
<rect x="463.70" y="203.28" width="16.00" height="4.535" fill="#fff2b8"/>
<rect x="479.70" y="203.28" width="16.00" height="4.535" fill="#fdd494"/>
<rect x="351.70" y="207.81" width="16.00" height="4.535" fill="#f0f4e6"/>
<rect x="367.70" y="207.81" width="16.00" height="4.535" fill="#fee4a4"/>
<rect x="383.70" y="207.81" width="16.00" height="4.535" fill="#fff0b4"/>
<rect x="399.70" y="207.81" width="16.00" height="4.535" fill="#fff2b8"/>
<rect x="415.70" y="207.81" width="16.00" height="4.535" fill="#fee4a0"/>
<rect x="431.70" y="207.81" width="16.00" height="4.535" fill="#fff0b4"/>
<rect x="447.70" y="207.81" width="16.00" height="4.535" fill="#fee4a0"/>
<rect x="463.70" y="207.81" width="16.00" height="4.535" fill="#fee6a4"/>
<rect x="479.70" y="207.81" width="16.00" height="4.535" fill="#f58c5c"/>
<rect x="351.70" y="212.35" width="16.00" height="4.535" fill="#fff4c0"/>
<rect x="367.70" y="212.35" width="16.00" height="4.535" fill="#fff0b0"/>
<rect x="383.70" y="212.35" width="16.00" height="4.535" fill="#fee8a8"/>
<rect x="399.70" y="212.35" width="16.00" height="4.535" fill="#fff2b8"/>
<rect x="415.70" y="212.35" width="16.00" height="4.535" fill="#fff2b8"/>
<rect x="431.70" y="212.35" width="16.00" height="4.535" fill="#fff2b8"/>
<rect x="447.70" y="212.35" width="16.00" height="4.535" fill="#fff0b4"/>
<rect x="463.70" y="212.35" width="16.00" height="4.535" fill="#fedc9c"/>
<rect x="479.70" y="212.35" width="16.00" height="4.535" fill="#fff6c8"/>
<rect x="351.70" y="216.88" width="16.00" height="4.535" fill="#d8e4f4"/>
<rect x="367.70" y="216.88" width="16.00" height="4.535" fill="#fee6a4"/>
<rect x="383.70" y="216.88" width="16.00" height="4.535" fill="#fff0b0"/>
<rect x="399.70" y="216.88" width="16.00" height="4.535" fill="#fff0b4"/>
<rect x="415.70" y="216.88" width="16.00" height="4.535" fill="#fff0b4"/>
<rect x="431.70" y="216.88" width="16.00" height="4.535" fill="#fff0b4"/>
<rect x="447.70" y="216.88" width="16.00" height="4.535" fill="#fff0b4"/>
<rect x="463.70" y="216.88" width="16.00" height="4.535" fill="#fff0b4"/>
<rect x="479.70" y="216.88" width="16.00" height="4.535" fill="#eef4cc"/>
<line x1="351.7" y1="30.95" x2="495.70" y2="30.95" stroke="#9e9880" stroke-width="0.45"/>
<line x1="351.7" y1="35.48" x2="495.70" y2="35.48" stroke="#9e9880" stroke-width="0.45"/>
<line x1="351.7" y1="40.02" x2="495.70" y2="40.02" stroke="#9e9880" stroke-width="0.45"/>
<line x1="351.7" y1="44.55" x2="495.70" y2="44.55" stroke="#9e9880" stroke-width="0.45"/>
<line x1="351.7" y1="49.09" x2="495.70" y2="49.09" stroke="#9e9880" stroke-width="0.45"/>
<line x1="351.7" y1="53.62" x2="495.70" y2="53.62" stroke="#9e9880" stroke-width="0.45"/>
<line x1="351.7" y1="58.16" x2="495.70" y2="58.16" stroke="#9e9880" stroke-width="0.45"/>
<line x1="351.7" y1="62.70" x2="495.70" y2="62.70" stroke="#9e9880" stroke-width="0.45"/>
<line x1="351.7" y1="67.23" x2="495.70" y2="67.23" stroke="#9e9880" stroke-width="0.45"/>
<line x1="351.7" y1="71.77" x2="495.70" y2="71.77" stroke="#9e9880" stroke-width="0.45"/>
<line x1="351.7" y1="76.30" x2="495.70" y2="76.30" stroke="#9e9880" stroke-width="0.45"/>
<line x1="351.7" y1="80.84" x2="495.70" y2="80.84" stroke="#9e9880" stroke-width="0.45"/>
<line x1="351.7" y1="85.37" x2="495.70" y2="85.37" stroke="#9e9880" stroke-width="0.45"/>
<line x1="351.7" y1="89.91" x2="495.70" y2="89.91" stroke="#9e9880" stroke-width="0.45"/>
<line x1="351.7" y1="94.44" x2="495.70" y2="94.44" stroke="#9e9880" stroke-width="0.45"/>
<line x1="351.7" y1="98.98" x2="495.70" y2="98.98" stroke="#9e9880" stroke-width="0.45"/>
<line x1="351.7" y1="103.51" x2="495.70" y2="103.51" stroke="#9e9880" stroke-width="0.45"/>
<line x1="351.7" y1="108.05" x2="495.70" y2="108.05" stroke="#9e9880" stroke-width="0.45"/>
<line x1="351.7" y1="112.58" x2="495.70" y2="112.58" stroke="#9e9880" stroke-width="0.45"/>
<line x1="351.7" y1="117.12" x2="495.70" y2="117.12" stroke="#9e9880" stroke-width="0.45"/>
<line x1="351.7" y1="121.65" x2="495.70" y2="121.65" stroke="#9e9880" stroke-width="0.45"/>
<line x1="351.7" y1="126.19" x2="495.70" y2="126.19" stroke="#9e9880" stroke-width="0.45"/>
<line x1="351.7" y1="130.72" x2="495.70" y2="130.72" stroke="#9e9880" stroke-width="0.45"/>
<line x1="351.7" y1="135.25" x2="495.70" y2="135.25" stroke="#9e9880" stroke-width="0.45"/>
<line x1="351.7" y1="139.79" x2="495.70" y2="139.79" stroke="#9e9880" stroke-width="0.45"/>
<line x1="351.7" y1="144.32" x2="495.70" y2="144.32" stroke="#9e9880" stroke-width="0.45"/>
<line x1="351.7" y1="148.86" x2="495.70" y2="148.86" stroke="#9e9880" stroke-width="0.45"/>
<line x1="351.7" y1="153.40" x2="495.70" y2="153.40" stroke="#9e9880" stroke-width="0.45"/>
<line x1="351.7" y1="157.93" x2="495.70" y2="157.93" stroke="#9e9880" stroke-width="0.45"/>
<line x1="351.7" y1="162.47" x2="495.70" y2="162.47" stroke="#9e9880" stroke-width="0.45"/>
<line x1="351.7" y1="167.00" x2="495.70" y2="167.00" stroke="#9e9880" stroke-width="0.45"/>
<line x1="351.7" y1="171.53" x2="495.70" y2="171.53" stroke="#9e9880" stroke-width="0.45"/>
<line x1="351.7" y1="176.07" x2="495.70" y2="176.07" stroke="#9e9880" stroke-width="0.45"/>
<line x1="351.7" y1="180.60" x2="495.70" y2="180.60" stroke="#9e9880" stroke-width="0.45"/>
<line x1="351.7" y1="185.14" x2="495.70" y2="185.14" stroke="#9e9880" stroke-width="0.45"/>
<line x1="351.7" y1="189.67" x2="495.70" y2="189.67" stroke="#9e9880" stroke-width="0.45"/>
<line x1="351.7" y1="194.21" x2="495.70" y2="194.21" stroke="#9e9880" stroke-width="0.45"/>
<line x1="351.7" y1="198.75" x2="495.70" y2="198.75" stroke="#9e9880" stroke-width="0.45"/>
<line x1="351.7" y1="203.28" x2="495.70" y2="203.28" stroke="#9e9880" stroke-width="0.45"/>
<line x1="351.7" y1="207.81" x2="495.70" y2="207.81" stroke="#9e9880" stroke-width="0.45"/>
<line x1="351.7" y1="212.35" x2="495.70" y2="212.35" stroke="#9e9880" stroke-width="0.45"/>
<line x1="351.7" y1="216.88" x2="495.70" y2="216.88" stroke="#9e9880" stroke-width="0.45"/>
<line x1="351.7" y1="221.42" x2="495.70" y2="221.42" stroke="#9e9880" stroke-width="0.45"/>
<line x1="351.70" y1="30.95" x2="351.70" y2="221.42" stroke="#9e9880" stroke-width="0.45"/>
<line x1="367.70" y1="30.95" x2="367.70" y2="221.42" stroke="#9e9880" stroke-width="0.45"/>
<line x1="383.70" y1="30.95" x2="383.70" y2="221.42" stroke="#9e9880" stroke-width="0.45"/>
<line x1="399.70" y1="30.95" x2="399.70" y2="221.42" stroke="#9e9880" stroke-width="0.45"/>
<line x1="415.70" y1="30.95" x2="415.70" y2="221.42" stroke="#9e9880" stroke-width="0.45"/>
<line x1="431.70" y1="30.95" x2="431.70" y2="221.42" stroke="#9e9880" stroke-width="0.45"/>
<line x1="447.70" y1="30.95" x2="447.70" y2="221.42" stroke="#9e9880" stroke-width="0.45"/>
<line x1="463.70" y1="30.95" x2="463.70" y2="221.42" stroke="#9e9880" stroke-width="0.45"/>
<line x1="479.70" y1="30.95" x2="479.70" y2="221.42" stroke="#9e9880" stroke-width="0.45"/>
<line x1="495.70" y1="30.95" x2="495.70" y2="221.42" stroke="#9e9880" stroke-width="0.45"/>
<rect x="345.0" y="30.95" width="5.90" height="4.535" fill="#2ea33a"/>
<rect x="345.0" y="35.48" width="5.90" height="4.535" fill="#2ea33a"/>
<rect x="345.0" y="40.02" width="5.90" height="4.535" fill="#2ea33a"/>
<rect x="345.0" y="44.55" width="5.90" height="4.535" fill="#2ea33a"/>
<rect x="345.0" y="49.09" width="5.90" height="4.535" fill="#2ea33a"/>
<rect x="345.0" y="53.62" width="5.90" height="4.535" fill="#2ea33a"/>
<rect x="345.0" y="58.16" width="5.90" height="4.535" fill="#2ea33a"/>
<rect x="345.0" y="62.70" width="5.90" height="4.535" fill="#2ea33a"/>
<rect x="345.0" y="67.23" width="5.90" height="4.535" fill="#8a0f3a"/>
<rect x="345.0" y="71.77" width="5.90" height="4.535" fill="#2ea33a"/>
<rect x="345.0" y="76.30" width="5.90" height="4.535" fill="#2ea33a"/>
<rect x="345.0" y="80.84" width="5.90" height="4.535" fill="#f7941d"/>
<rect x="345.0" y="85.37" width="5.90" height="4.535" fill="#d10c2c"/>
<rect x="345.0" y="89.91" width="5.90" height="4.535" fill="#f7941d"/>
<rect x="345.0" y="94.44" width="5.90" height="4.535" fill="#1a457e"/>
<rect x="345.0" y="98.98" width="5.90" height="4.535" fill="#f7941d"/>
<rect x="345.0" y="103.51" width="5.90" height="4.535" fill="#d10c2c"/>
<rect x="345.0" y="108.05" width="5.90" height="4.535" fill="#f7941d"/>
<rect x="345.0" y="112.58" width="5.90" height="4.535" fill="#f7941d"/>
<rect x="345.0" y="117.12" width="5.90" height="4.535" fill="#f7941d"/>
<rect x="345.0" y="121.65" width="5.90" height="4.535" fill="#f7941d"/>
<rect x="345.0" y="126.19" width="5.90" height="4.535" fill="#d10c2c"/>
<rect x="345.0" y="130.72" width="5.90" height="4.535" fill="#d10c2c"/>
<rect x="345.0" y="135.25" width="5.90" height="4.535" fill="#8a0f3a"/>
<rect x="345.0" y="139.79" width="5.90" height="4.535" fill="#f7941d"/>
<rect x="345.0" y="144.32" width="5.90" height="4.535" fill="#d10c2c"/>
<rect x="345.0" y="148.86" width="5.90" height="4.535" fill="#f7941d"/>
<rect x="345.0" y="153.40" width="5.90" height="4.535" fill="#d10c2c"/>
<rect x="345.0" y="157.93" width="5.90" height="4.535" fill="#1a457e"/>
<rect x="345.0" y="162.47" width="5.90" height="4.535" fill="#1a457e"/>
<rect x="345.0" y="167.00" width="5.90" height="4.535" fill="#1a457e"/>
<rect x="345.0" y="171.53" width="5.90" height="4.535" fill="#5c1a4e"/>
<rect x="345.0" y="176.07" width="5.90" height="4.535" fill="#d10c2c"/>
<rect x="345.0" y="180.60" width="5.90" height="4.535" fill="#d10c2c"/>
<rect x="345.0" y="185.14" width="5.90" height="4.535" fill="#f7941d"/>
<rect x="345.0" y="189.67" width="5.90" height="4.535" fill="#d10c2c"/>
<rect x="345.0" y="194.21" width="5.90" height="4.535" fill="#8a0f3a"/>
<rect x="345.0" y="198.75" width="5.90" height="4.535" fill="#2a6244"/>
<rect x="345.0" y="203.28" width="5.90" height="4.535" fill="#d10c2c"/>
<rect x="345.0" y="207.81" width="5.90" height="4.535" fill="#d10c2c"/>
<rect x="345.0" y="212.35" width="5.90" height="4.535" fill="#1a457e"/>
<rect x="345.0" y="216.88" width="5.90" height="4.535" fill="#f7941d"/>
<line x1="345.0" y1="30.95" x2="350.9" y2="30.95" stroke="#9e9880" stroke-width="0.4" opacity="0.6"/>
<line x1="345.0" y1="35.48" x2="350.9" y2="35.48" stroke="#9e9880" stroke-width="0.4" opacity="0.6"/>
<line x1="345.0" y1="40.02" x2="350.9" y2="40.02" stroke="#9e9880" stroke-width="0.4" opacity="0.6"/>
<line x1="345.0" y1="44.55" x2="350.9" y2="44.55" stroke="#9e9880" stroke-width="0.4" opacity="0.6"/>
<line x1="345.0" y1="49.09" x2="350.9" y2="49.09" stroke="#9e9880" stroke-width="0.4" opacity="0.6"/>
<line x1="345.0" y1="53.62" x2="350.9" y2="53.62" stroke="#9e9880" stroke-width="0.4" opacity="0.6"/>
<line x1="345.0" y1="58.16" x2="350.9" y2="58.16" stroke="#9e9880" stroke-width="0.4" opacity="0.6"/>
<line x1="345.0" y1="62.70" x2="350.9" y2="62.70" stroke="#9e9880" stroke-width="0.4" opacity="0.6"/>
<line x1="345.0" y1="67.23" x2="350.9" y2="67.23" stroke="#9e9880" stroke-width="0.4" opacity="0.6"/>
<line x1="345.0" y1="71.77" x2="350.9" y2="71.77" stroke="#9e9880" stroke-width="0.4" opacity="0.6"/>
<line x1="345.0" y1="76.30" x2="350.9" y2="76.30" stroke="#9e9880" stroke-width="0.4" opacity="0.6"/>
<line x1="345.0" y1="80.84" x2="350.9" y2="80.84" stroke="#9e9880" stroke-width="0.4" opacity="0.6"/>
<line x1="345.0" y1="85.37" x2="350.9" y2="85.37" stroke="#9e9880" stroke-width="0.4" opacity="0.6"/>
<line x1="345.0" y1="89.91" x2="350.9" y2="89.91" stroke="#9e9880" stroke-width="0.4" opacity="0.6"/>
<line x1="345.0" y1="94.44" x2="350.9" y2="94.44" stroke="#9e9880" stroke-width="0.4" opacity="0.6"/>
<line x1="345.0" y1="98.98" x2="350.9" y2="98.98" stroke="#9e9880" stroke-width="0.4" opacity="0.6"/>
<line x1="345.0" y1="103.51" x2="350.9" y2="103.51" stroke="#9e9880" stroke-width="0.4" opacity="0.6"/>
<line x1="345.0" y1="108.05" x2="350.9" y2="108.05" stroke="#9e9880" stroke-width="0.4" opacity="0.6"/>
<line x1="345.0" y1="112.58" x2="350.9" y2="112.58" stroke="#9e9880" stroke-width="0.4" opacity="0.6"/>
<line x1="345.0" y1="117.12" x2="350.9" y2="117.12" stroke="#9e9880" stroke-width="0.4" opacity="0.6"/>
<line x1="345.0" y1="121.65" x2="350.9" y2="121.65" stroke="#9e9880" stroke-width="0.4" opacity="0.6"/>
<line x1="345.0" y1="126.19" x2="350.9" y2="126.19" stroke="#9e9880" stroke-width="0.4" opacity="0.6"/>
<line x1="345.0" y1="130.72" x2="350.9" y2="130.72" stroke="#9e9880" stroke-width="0.4" opacity="0.6"/>
<line x1="345.0" y1="135.25" x2="350.9" y2="135.25" stroke="#9e9880" stroke-width="0.4" opacity="0.6"/>
<line x1="345.0" y1="139.79" x2="350.9" y2="139.79" stroke="#9e9880" stroke-width="0.4" opacity="0.6"/>
<line x1="345.0" y1="144.32" x2="350.9" y2="144.32" stroke="#9e9880" stroke-width="0.4" opacity="0.6"/>
<line x1="345.0" y1="148.86" x2="350.9" y2="148.86" stroke="#9e9880" stroke-width="0.4" opacity="0.6"/>
<line x1="345.0" y1="153.40" x2="350.9" y2="153.40" stroke="#9e9880" stroke-width="0.4" opacity="0.6"/>
<line x1="345.0" y1="157.93" x2="350.9" y2="157.93" stroke="#9e9880" stroke-width="0.4" opacity="0.6"/>
<line x1="345.0" y1="162.47" x2="350.9" y2="162.47" stroke="#9e9880" stroke-width="0.4" opacity="0.6"/>
<line x1="345.0" y1="167.00" x2="350.9" y2="167.00" stroke="#9e9880" stroke-width="0.4" opacity="0.6"/>
<line x1="345.0" y1="171.53" x2="350.9" y2="171.53" stroke="#9e9880" stroke-width="0.4" opacity="0.6"/>
<line x1="345.0" y1="176.07" x2="350.9" y2="176.07" stroke="#9e9880" stroke-width="0.4" opacity="0.6"/>
<line x1="345.0" y1="180.60" x2="350.9" y2="180.60" stroke="#9e9880" stroke-width="0.4" opacity="0.6"/>
<line x1="345.0" y1="185.14" x2="350.9" y2="185.14" stroke="#9e9880" stroke-width="0.4" opacity="0.6"/>
<line x1="345.0" y1="189.67" x2="350.9" y2="189.67" stroke="#9e9880" stroke-width="0.4" opacity="0.6"/>
<line x1="345.0" y1="194.21" x2="350.9" y2="194.21" stroke="#9e9880" stroke-width="0.4" opacity="0.6"/>
<line x1="345.0" y1="198.75" x2="350.9" y2="198.75" stroke="#9e9880" stroke-width="0.4" opacity="0.6"/>
<line x1="345.0" y1="203.28" x2="350.9" y2="203.28" stroke="#9e9880" stroke-width="0.4" opacity="0.6"/>
<line x1="345.0" y1="207.81" x2="350.9" y2="207.81" stroke="#9e9880" stroke-width="0.4" opacity="0.6"/>
<line x1="345.0" y1="212.35" x2="350.9" y2="212.35" stroke="#9e9880" stroke-width="0.4" opacity="0.6"/>
<line x1="345.0" y1="216.88" x2="350.9" y2="216.88" stroke="#9e9880" stroke-width="0.4" opacity="0.6"/>
<line x1="345.0" y1="221.42" x2="350.9" y2="221.42" stroke="#9e9880" stroke-width="0.4" opacity="0.6"/>
<line x1="359.70" y1="19.60" x2="375.70" y2="19.60" stroke="#858585" stroke-width="0.65"/>
<line x1="359.70" y1="19.60" x2="359.70" y2="30.60" stroke="#858585" stroke-width="0.65"/>
<line x1="375.70" y1="19.60" x2="375.70" y2="30.60" stroke="#858585" stroke-width="0.65"/>
<line x1="423.70" y1="24.20" x2="439.70" y2="24.20" stroke="#858585" stroke-width="0.65"/>
<line x1="423.70" y1="24.20" x2="423.70" y2="30.60" stroke="#858585" stroke-width="0.65"/>
<line x1="439.70" y1="24.20" x2="439.70" y2="30.60" stroke="#858585" stroke-width="0.65"/>
<line x1="471.70" y1="24.20" x2="487.70" y2="24.20" stroke="#858585" stroke-width="0.65"/>
<line x1="471.70" y1="24.20" x2="471.70" y2="30.60" stroke="#858585" stroke-width="0.65"/>
<line x1="487.70" y1="24.20" x2="487.70" y2="30.60" stroke="#858585" stroke-width="0.65"/>
<line x1="455.70" y1="22.20" x2="479.70" y2="22.20" stroke="#858585" stroke-width="0.65"/>
<line x1="455.70" y1="22.20" x2="455.70" y2="30.60" stroke="#858585" stroke-width="0.65"/>
<line x1="479.70" y1="22.20" x2="479.70" y2="24.20" stroke="#858585" stroke-width="0.65"/>
<line x1="431.70" y1="21.00" x2="467.70" y2="21.00" stroke="#858585" stroke-width="0.65"/>
<line x1="431.70" y1="21.00" x2="431.70" y2="24.20" stroke="#858585" stroke-width="0.65"/>
<line x1="467.70" y1="21.00" x2="467.70" y2="22.20" stroke="#858585" stroke-width="0.65"/>
<line x1="407.70" y1="18.80" x2="449.70" y2="18.80" stroke="#858585" stroke-width="0.65"/>
<line x1="407.70" y1="18.80" x2="407.70" y2="30.60" stroke="#858585" stroke-width="0.65"/>
<line x1="449.70" y1="18.80" x2="449.70" y2="21.00" stroke="#858585" stroke-width="0.65"/>
<line x1="391.70" y1="16.50" x2="428.70" y2="16.50" stroke="#858585" stroke-width="0.65"/>
<line x1="391.70" y1="16.50" x2="391.70" y2="30.60" stroke="#858585" stroke-width="0.65"/>
<line x1="428.70" y1="16.50" x2="428.70" y2="18.80" stroke="#858585" stroke-width="0.65"/>
<line x1="367.70" y1="12.70" x2="410.20" y2="12.70" stroke="#858585" stroke-width="0.65"/>
<line x1="367.70" y1="12.70" x2="367.70" y2="19.60" stroke="#858585" stroke-width="0.65"/>
<line x1="410.20" y1="12.70" x2="410.20" y2="16.50" stroke="#858585" stroke-width="0.65"/>
<line x1="336.60" y1="33.22" x2="336.60" y2="37.75" stroke="#858585" stroke-width="0.65"/>
<line x1="336.60" y1="33.22" x2="344.40" y2="33.22" stroke="#858585" stroke-width="0.65"/>
<line x1="336.60" y1="37.75" x2="344.40" y2="37.75" stroke="#858585" stroke-width="0.65"/>
<line x1="341.00" y1="42.29" x2="341.00" y2="46.82" stroke="#858585" stroke-width="0.65"/>
<line x1="341.00" y1="42.29" x2="344.40" y2="42.29" stroke="#858585" stroke-width="0.65"/>
<line x1="341.00" y1="46.82" x2="344.40" y2="46.82" stroke="#858585" stroke-width="0.65"/>
<line x1="340.50" y1="51.36" x2="340.50" y2="55.89" stroke="#858585" stroke-width="0.65"/>
<line x1="340.50" y1="51.36" x2="344.40" y2="51.36" stroke="#858585" stroke-width="0.65"/>
<line x1="340.50" y1="55.89" x2="344.40" y2="55.89" stroke="#858585" stroke-width="0.65"/>
<line x1="337.40" y1="44.55" x2="337.40" y2="53.62" stroke="#858585" stroke-width="0.65"/>
<line x1="337.40" y1="44.55" x2="341.00" y2="44.55" stroke="#858585" stroke-width="0.65"/>
<line x1="337.40" y1="53.62" x2="340.50" y2="53.62" stroke="#858585" stroke-width="0.65"/>
<line x1="342.60" y1="74.03" x2="342.60" y2="78.57" stroke="#858585" stroke-width="0.65"/>
<line x1="342.60" y1="74.03" x2="344.40" y2="74.03" stroke="#858585" stroke-width="0.65"/>
<line x1="342.60" y1="78.57" x2="344.40" y2="78.57" stroke="#858585" stroke-width="0.65"/>
<line x1="339.80" y1="69.50" x2="339.80" y2="76.30" stroke="#858585" stroke-width="0.65"/>
<line x1="339.80" y1="69.50" x2="344.40" y2="69.50" stroke="#858585" stroke-width="0.65"/>
<line x1="339.80" y1="76.30" x2="342.60" y2="76.30" stroke="#858585" stroke-width="0.65"/>
<line x1="338.90" y1="64.96" x2="338.90" y2="72.90" stroke="#858585" stroke-width="0.65"/>
<line x1="338.90" y1="64.96" x2="344.40" y2="64.96" stroke="#858585" stroke-width="0.65"/>
<line x1="338.90" y1="72.90" x2="339.80" y2="72.90" stroke="#858585" stroke-width="0.65"/>
<line x1="338.10" y1="60.43" x2="338.10" y2="68.93" stroke="#858585" stroke-width="0.65"/>
<line x1="338.10" y1="60.43" x2="344.40" y2="60.43" stroke="#858585" stroke-width="0.65"/>
<line x1="338.10" y1="68.93" x2="338.90" y2="68.93" stroke="#858585" stroke-width="0.65"/>
<line x1="340.40" y1="83.10" x2="340.40" y2="87.64" stroke="#858585" stroke-width="0.65"/>
<line x1="340.40" y1="83.10" x2="344.40" y2="83.10" stroke="#858585" stroke-width="0.65"/>
<line x1="340.40" y1="87.64" x2="344.40" y2="87.64" stroke="#858585" stroke-width="0.65"/>
<line x1="340.20" y1="92.17" x2="340.20" y2="96.71" stroke="#858585" stroke-width="0.65"/>
<line x1="340.20" y1="92.17" x2="344.40" y2="92.17" stroke="#858585" stroke-width="0.65"/>
<line x1="340.20" y1="96.71" x2="344.40" y2="96.71" stroke="#858585" stroke-width="0.65"/>
<line x1="339.60" y1="101.24" x2="339.60" y2="105.78" stroke="#858585" stroke-width="0.65"/>
<line x1="339.60" y1="101.24" x2="344.40" y2="101.24" stroke="#858585" stroke-width="0.65"/>
<line x1="339.60" y1="105.78" x2="344.40" y2="105.78" stroke="#858585" stroke-width="0.65"/>
<line x1="338.10" y1="94.44" x2="338.10" y2="103.51" stroke="#858585" stroke-width="0.65"/>
<line x1="338.10" y1="94.44" x2="340.20" y2="94.44" stroke="#858585" stroke-width="0.65"/>
<line x1="338.10" y1="103.51" x2="339.60" y2="103.51" stroke="#858585" stroke-width="0.65"/>
<line x1="336.10" y1="85.37" x2="336.10" y2="98.97" stroke="#858585" stroke-width="0.65"/>
<line x1="336.10" y1="85.37" x2="340.40" y2="85.37" stroke="#858585" stroke-width="0.65"/>
<line x1="336.10" y1="98.97" x2="338.10" y2="98.97" stroke="#858585" stroke-width="0.65"/>
<line x1="335.00" y1="64.68" x2="335.00" y2="92.17" stroke="#858585" stroke-width="0.65"/>
<line x1="335.00" y1="64.68" x2="338.10" y2="64.68" stroke="#858585" stroke-width="0.65"/>
<line x1="335.00" y1="92.17" x2="336.10" y2="92.17" stroke="#858585" stroke-width="0.65"/>
<line x1="334.70" y1="49.09" x2="334.70" y2="78.43" stroke="#858585" stroke-width="0.65"/>
<line x1="334.70" y1="49.09" x2="337.40" y2="49.09" stroke="#858585" stroke-width="0.65"/>
<line x1="334.70" y1="78.43" x2="335.00" y2="78.43" stroke="#858585" stroke-width="0.65"/>
<line x1="330.10" y1="35.48" x2="330.10" y2="63.76" stroke="#858585" stroke-width="0.65"/>
<line x1="330.10" y1="35.48" x2="336.60" y2="35.48" stroke="#858585" stroke-width="0.65"/>
<line x1="330.10" y1="63.76" x2="334.70" y2="63.76" stroke="#858585" stroke-width="0.65"/>
<line x1="340.00" y1="114.85" x2="340.00" y2="119.38" stroke="#858585" stroke-width="0.65"/>
<line x1="340.00" y1="114.85" x2="344.40" y2="114.85" stroke="#858585" stroke-width="0.65"/>
<line x1="340.00" y1="119.38" x2="344.40" y2="119.38" stroke="#858585" stroke-width="0.65"/>
<line x1="336.30" y1="110.31" x2="336.30" y2="117.12" stroke="#858585" stroke-width="0.65"/>
<line x1="336.30" y1="110.31" x2="344.40" y2="110.31" stroke="#858585" stroke-width="0.65"/>
<line x1="336.30" y1="117.12" x2="340.00" y2="117.12" stroke="#858585" stroke-width="0.65"/>
<line x1="339.40" y1="128.45" x2="339.40" y2="132.99" stroke="#858585" stroke-width="0.65"/>
<line x1="339.40" y1="128.45" x2="344.40" y2="128.45" stroke="#858585" stroke-width="0.65"/>
<line x1="339.40" y1="132.99" x2="344.40" y2="132.99" stroke="#858585" stroke-width="0.65"/>
<line x1="337.60" y1="123.92" x2="337.60" y2="130.72" stroke="#858585" stroke-width="0.65"/>
<line x1="337.60" y1="123.92" x2="344.40" y2="123.92" stroke="#858585" stroke-width="0.65"/>
<line x1="337.60" y1="130.72" x2="339.40" y2="130.72" stroke="#858585" stroke-width="0.65"/>
<line x1="337.40" y1="137.52" x2="337.40" y2="142.06" stroke="#858585" stroke-width="0.65"/>
<line x1="337.40" y1="137.52" x2="344.40" y2="137.52" stroke="#858585" stroke-width="0.65"/>
<line x1="337.40" y1="142.06" x2="344.40" y2="142.06" stroke="#858585" stroke-width="0.65"/>
<line x1="336.00" y1="127.32" x2="336.00" y2="139.79" stroke="#858585" stroke-width="0.65"/>
<line x1="336.00" y1="127.32" x2="337.60" y2="127.32" stroke="#858585" stroke-width="0.65"/>
<line x1="336.00" y1="139.79" x2="337.40" y2="139.79" stroke="#858585" stroke-width="0.65"/>
<line x1="333.40" y1="113.71" x2="333.40" y2="133.55" stroke="#858585" stroke-width="0.65"/>
<line x1="333.40" y1="113.71" x2="336.30" y2="113.71" stroke="#858585" stroke-width="0.65"/>
<line x1="333.40" y1="133.55" x2="336.00" y2="133.55" stroke="#858585" stroke-width="0.65"/>
<line x1="342.00" y1="155.66" x2="342.00" y2="160.20" stroke="#858585" stroke-width="0.65"/>
<line x1="342.00" y1="155.66" x2="344.40" y2="155.66" stroke="#858585" stroke-width="0.65"/>
<line x1="342.00" y1="160.20" x2="344.40" y2="160.20" stroke="#858585" stroke-width="0.65"/>
<line x1="341.00" y1="164.73" x2="341.00" y2="169.27" stroke="#858585" stroke-width="0.65"/>
<line x1="341.00" y1="164.73" x2="344.40" y2="164.73" stroke="#858585" stroke-width="0.65"/>
<line x1="341.00" y1="169.27" x2="344.40" y2="169.27" stroke="#858585" stroke-width="0.65"/>
<line x1="339.50" y1="157.93" x2="339.50" y2="167.00" stroke="#858585" stroke-width="0.65"/>
<line x1="339.50" y1="157.93" x2="342.00" y2="157.93" stroke="#858585" stroke-width="0.65"/>
<line x1="339.50" y1="167.00" x2="341.00" y2="167.00" stroke="#858585" stroke-width="0.65"/>
<line x1="337.80" y1="151.13" x2="337.80" y2="162.47" stroke="#858585" stroke-width="0.65"/>
<line x1="337.80" y1="151.13" x2="344.40" y2="151.13" stroke="#858585" stroke-width="0.65"/>
<line x1="337.80" y1="162.47" x2="339.50" y2="162.47" stroke="#858585" stroke-width="0.65"/>
<line x1="342.00" y1="173.80" x2="342.00" y2="178.34" stroke="#858585" stroke-width="0.65"/>
<line x1="342.00" y1="173.80" x2="344.40" y2="173.80" stroke="#858585" stroke-width="0.65"/>
<line x1="342.00" y1="178.34" x2="344.40" y2="178.34" stroke="#858585" stroke-width="0.65"/>
<line x1="341.50" y1="182.87" x2="341.50" y2="187.41" stroke="#858585" stroke-width="0.65"/>
<line x1="341.50" y1="182.87" x2="344.40" y2="182.87" stroke="#858585" stroke-width="0.65"/>
<line x1="341.50" y1="187.41" x2="344.40" y2="187.41" stroke="#858585" stroke-width="0.65"/>
<line x1="339.50" y1="176.07" x2="339.50" y2="185.14" stroke="#858585" stroke-width="0.65"/>
<line x1="339.50" y1="176.07" x2="342.00" y2="176.07" stroke="#858585" stroke-width="0.65"/>
<line x1="339.50" y1="185.14" x2="341.50" y2="185.14" stroke="#858585" stroke-width="0.65"/>
<line x1="339.60" y1="196.48" x2="339.60" y2="201.01" stroke="#858585" stroke-width="0.65"/>
<line x1="339.60" y1="196.48" x2="344.40" y2="196.48" stroke="#858585" stroke-width="0.65"/>
<line x1="339.60" y1="201.01" x2="344.40" y2="201.01" stroke="#858585" stroke-width="0.65"/>
<line x1="336.60" y1="191.94" x2="336.60" y2="198.75" stroke="#858585" stroke-width="0.65"/>
<line x1="336.60" y1="191.94" x2="344.40" y2="191.94" stroke="#858585" stroke-width="0.65"/>
<line x1="336.60" y1="198.75" x2="339.60" y2="198.75" stroke="#858585" stroke-width="0.65"/>
<line x1="341.20" y1="205.55" x2="341.20" y2="210.08" stroke="#858585" stroke-width="0.65"/>
<line x1="341.20" y1="205.55" x2="344.40" y2="205.55" stroke="#858585" stroke-width="0.65"/>
<line x1="341.20" y1="210.08" x2="344.40" y2="210.08" stroke="#858585" stroke-width="0.65"/>
<line x1="341.80" y1="214.62" x2="341.80" y2="219.15" stroke="#858585" stroke-width="0.65"/>
<line x1="341.80" y1="214.62" x2="344.40" y2="214.62" stroke="#858585" stroke-width="0.65"/>
<line x1="341.80" y1="219.15" x2="344.40" y2="219.15" stroke="#858585" stroke-width="0.65"/>
<line x1="338.40" y1="207.81" x2="338.40" y2="216.88" stroke="#858585" stroke-width="0.65"/>
<line x1="338.40" y1="207.81" x2="341.20" y2="207.81" stroke="#858585" stroke-width="0.65"/>
<line x1="338.40" y1="216.88" x2="341.80" y2="216.88" stroke="#858585" stroke-width="0.65"/>
<line x1="335.40" y1="195.34" x2="335.40" y2="212.35" stroke="#858585" stroke-width="0.65"/>
<line x1="335.40" y1="195.34" x2="336.60" y2="195.34" stroke="#858585" stroke-width="0.65"/>
<line x1="335.40" y1="212.35" x2="338.40" y2="212.35" stroke="#858585" stroke-width="0.65"/>
<line x1="334.50" y1="180.60" x2="334.50" y2="203.85" stroke="#858585" stroke-width="0.65"/>
<line x1="334.50" y1="180.60" x2="339.50" y2="180.60" stroke="#858585" stroke-width="0.65"/>
<line x1="334.50" y1="203.85" x2="335.40" y2="203.85" stroke="#858585" stroke-width="0.65"/>
<line x1="334.00" y1="156.80" x2="334.00" y2="192.23" stroke="#858585" stroke-width="0.65"/>
<line x1="334.00" y1="156.80" x2="337.80" y2="156.80" stroke="#858585" stroke-width="0.65"/>
<line x1="334.00" y1="192.23" x2="334.50" y2="192.23" stroke="#858585" stroke-width="0.65"/>
<line x1="331.90" y1="146.59" x2="331.90" y2="174.51" stroke="#858585" stroke-width="0.65"/>
<line x1="331.90" y1="146.59" x2="344.40" y2="146.59" stroke="#858585" stroke-width="0.65"/>
<line x1="331.90" y1="174.51" x2="334.00" y2="174.51" stroke="#858585" stroke-width="0.65"/>
<line x1="329.30" y1="123.63" x2="329.30" y2="160.55" stroke="#858585" stroke-width="0.65"/>
<line x1="329.30" y1="123.63" x2="333.40" y2="123.63" stroke="#858585" stroke-width="0.65"/>
<line x1="329.30" y1="160.55" x2="331.90" y2="160.55" stroke="#858585" stroke-width="0.65"/>
<line x1="323.80" y1="49.62" x2="323.80" y2="142.09" stroke="#858585" stroke-width="0.65"/>
<line x1="323.80" y1="49.62" x2="330.10" y2="49.62" stroke="#858585" stroke-width="0.65"/>
<line x1="323.80" y1="142.09" x2="329.30" y2="142.09" stroke="#858585" stroke-width="0.65"/>
<defs><linearGradient id="cb" x1="0" y1="0" x2="0" y2="1"><stop offset="0" stop-color="#d73027"/><stop offset="0.1667" stop-color="#fc8d59"/><stop offset="0.3333" stop-color="#fee090"/><stop offset="0.5" stop-color="#ffffbf"/><stop offset="0.6667" stop-color="#e0f3f8"/><stop offset="0.8333" stop-color="#91bfdb"/><stop offset="1" stop-color="#4575b4"/></linearGradient></defs>
<rect x="497.4" y="31.1" width="4.2" height="59.6" fill="url(#cb)"/>
<text x="504.0" y="39.6" font-size="8.5" fill="#333">3</text>
<text x="504.0" y="48.0" font-size="8.5" fill="#333">2</text>
<text x="504.0" y="56.5" font-size="8.5" fill="#333">1</text>
<text x="504.0" y="65.0" font-size="8.5" fill="#333">0</text>
<text x="503.5" y="73.4" font-size="8.5" fill="#333">−1</text>
<text x="503.5" y="81.8" font-size="8.5" fill="#333">−2</text>
<text x="503.5" y="90.3" font-size="8.5" fill="#333">−3</text>
<text transform="translate(363.30,228.6) rotate(-45)" text-anchor="end" font-size="8.4" fill="#222">FLICA+Speck+ monocytes</text>
<text transform="translate(379.30,228.6) rotate(-45)" text-anchor="end" font-size="8.4" fill="#222">FLICA (gMFI)</text>
<text transform="translate(395.30,228.6) rotate(-45)" text-anchor="end" font-size="8.4" fill="#222">CD163</text>
<text transform="translate(411.30,228.6) rotate(-45)" text-anchor="end" font-size="8.4" fill="#222">TNFa</text>
<text transform="translate(427.30,228.6) rotate(-45)" text-anchor="end" font-size="8.4" fill="#222">CRP</text>
<text transform="translate(443.30,228.6) rotate(-45)" text-anchor="end" font-size="8.4" fill="#222">IL6</text>
<text transform="translate(459.30,228.6) rotate(-45)" text-anchor="end" font-size="8.4" fill="#222">KSHV viral load</text>
<text transform="translate(475.30,228.6) rotate(-45)" text-anchor="end" font-size="8.4" fill="#222">Ferritin</text>
<text transform="translate(491.30,228.6) rotate(-45)" text-anchor="end" font-size="8.4" fill="#222">IL18</text>
<text transform="translate(351.95,228.9) rotate(-45)" text-anchor="end" font-size="8.6" font-weight="bold" fill="#111">Group</text>
</svg></div></body></html>
